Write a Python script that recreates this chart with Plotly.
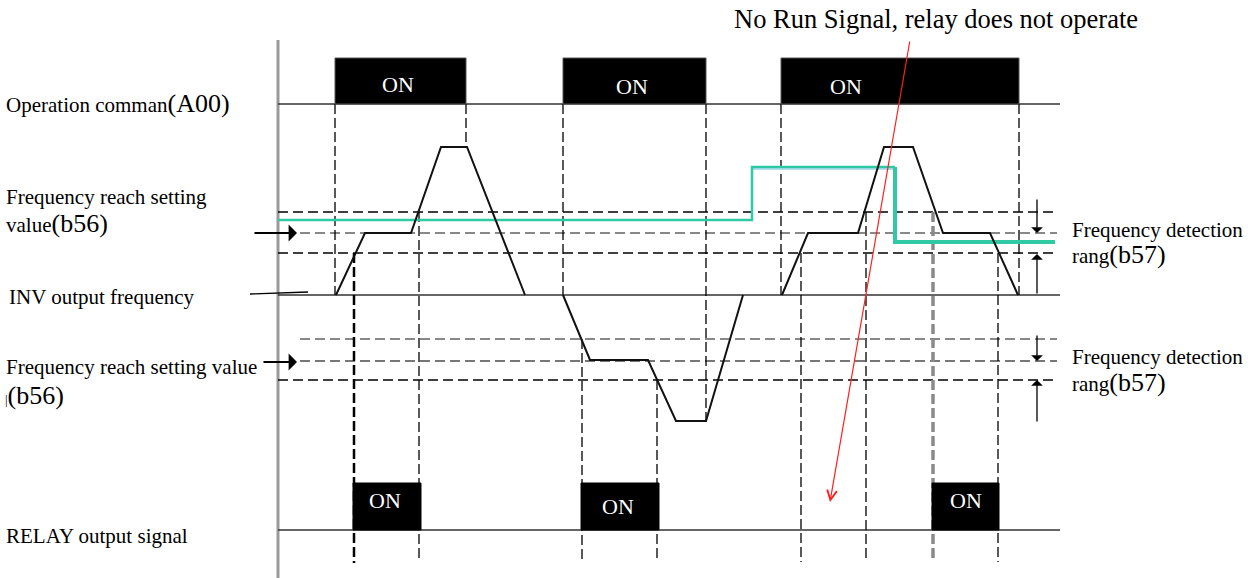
import plotly.graph_objects as go

# time positions (px along the time axis) and signal levels (px, top-down)
cmd_on = [(335, 466), (563, 706), (781, 1019)]
relay_on = [(353, 421), (581, 659), (932, 999)]
cmd_on_label = [(398, 84), (632, 86), (846, 86)]
relay_on_label = [(385, 500), (618, 506), (966, 500)]

cmd_level, inv_level, relay_level = 104, 295, 530
cmd_top, relay_top = 58, 483

inv_t = [336, 365, 411, 441, 467, 525, None, 563, 590, 648, 676, 706, 743, None,
         782, 808, 858, 884, 913, 943, 990, 1018]
inv_f = [295, 233, 233, 147, 147, 295, None, 295, 360, 360, 421, 421, 295, None,
         295, 233, 233, 147, 147, 233, 233, 295]

setting_t = [278, 752, 752, 895]
setting_f = [220, 220, 167, 167]
setting2_t = [895, 895, 1055]
setting2_f = [167, 242, 242]

upper_band = [(212, 'black'), (233, '#888888'), (253, 'black')]
lower_band = [(339, '#888888'), (361, '#777777'), (380, 'black')]

cmd_edges = [(335, 295), (466, 148), (563, 295), (706, 421), (781, 295), (1019, 295)]
relay_edges = [(354, 253, 563), (419, 212, 558), (582, 339, 562), (657, 380, 562),
               (801, 253, 562), (866, 212, 562), (933, 212, 558), (998, 253, 562)]

FONT = 'Liberation Serif'
fig = go.Figure()

def line(x, y, color='black', width=1.3, dash='solid'):
    fig.add_trace(go.Scatter(x=x, y=y, mode='lines', hoverinfo='skip',
                             line=dict(color=color, width=width, dash=dash)))

# left axis bar
line([278, 278], [40, 578], color='#9a9a9a', width=3)

# baselines
for lv in (cmd_level, inv_level, relay_level):
    line([278, 1060], [lv, lv], color='#333333', width=1.3)

# detection bands
for y, c in upper_band + lower_band:
    x0 = 300 if c != 'black' else 278
    line([x0, 1057], [y, y], color=c, width=2 if c != 'black' else 1.5, dash='10px,5px')

# vertical timing guides
for x, y1 in cmd_edges:
    line([x, x], [cmd_level, y1], width=1.3, dash='10px,4px')
for x, y0, y1 in relay_edges:
    if x == 354:
        line([x, x], [y0, y1], width=2.5, dash='10px,4px')
    elif x == 933:
        line([x, x], [y0, y1], color='#8a8a8a', width=3.5, dash='10px,4px')
    else:
        line([x, x], [y0, y1], width=1.3, dash='10px,4px')

# setting value (teal)
line([752, 895], [169, 169], color='#b5def2', width=2)
line(setting_t, setting_f, color='#2fc9a3', width=2.5)
line(setting2_t, setting2_f, color='#2fc9a3', width=4)

# inverter output frequency
line(inv_t, inv_f, color='#111111', width=2)

# pointer from label
line([250, 308], [294, 292], width=1.3)

shapes = []
for a, b in cmd_on:
    shapes.append(dict(type='rect', xref='x', yref='y', x0=a, x1=b, y0=cmd_top, y1=cmd_level,
                       fillcolor='black', line=dict(color='#555555', width=1), layer='above'))
for a, b in relay_on:
    shapes.append(dict(type='rect', xref='x', yref='y', x0=a, x1=b, y0=relay_top, y1=relay_level,
                       fillcolor='black', line=dict(color='black', width=1), layer='above'))

ann = []
for x, y in cmd_on_label + relay_on_label:
    ann.append(dict(x=x, y=y, text='ON', showarrow=False, font=dict(family=FONT, size=22, color='white')))

def label(x, y, text, size=21, anchor='left'):
    ann.append(dict(x=x, y=y, text=text, showarrow=False, xanchor=anchor,
                    font=dict(family=FONT, size=size, color='black')))

big = "<span style='font-size:26px'>%s</span>"
label(4, 103, 'Operation comman' + big % '(A00)')
label(4, 197, 'Frequency reach setting')
label(4, 223, 'value' + big % '(b56)')
label(7, 297, 'INV output frequency')
label(4, 367, 'Frequency reach setting value')
label(3, 395, '|' + big % '(b56)', size=13)
label(4, 536, 'RELAY output signal')
label(1070, 230, 'Frequency detection')
label(1070, 254, 'rang' + big % '(b57)')
label(1070, 357, 'Frequency detection')
label(1070, 382, 'rang' + big % '(b57)')
label(936, 19, 'No Run Signal, relay does not operate', size=26.5, anchor='center')

def arrow(x, y, ax, ay, color='black', head=1, width=1.3, size=1.5):
    ann.append(dict(x=x, y=y, ax=ax, ay=ay, xref='x', yref='y', axref='x', ayref='y',
                    text='', showarrow=True, arrowhead=head, arrowsize=size,
                    arrowwidth=width, arrowcolor=color))

arrow(297, 233, 253, 233, width=2, size=1.4)
arrow(297, 362, 262, 362, width=2, size=1.4)
arrow(1037, 233, 1037, 198)
arrow(1037, 254, 1037, 295)
arrow(1037, 361, 1037, 334)
arrow(1037, 380, 1037, 423)
arrow(830, 502, 910, 40, color='#ff2020', head=5, width=1.2, size=1.6)

fig.update_layout(
    width=1248, height=578, margin=dict(l=0, r=0, t=0, b=0),
    paper_bgcolor='white', plot_bgcolor='white', showlegend=False,
    xaxis=dict(range=[0, 1248], visible=False, fixedrange=True),
    yaxis=dict(range=[578, 0], visible=False, fixedrange=True),
    shapes=shapes, annotations=ann,
)
# drop the default 8px page margin so the figure sits at the window origin
fig.write_html('out.html', config={'displayModeBar': False},
               post_script="document.body.style.margin='0';document.body.style.overflow='hidden';")
